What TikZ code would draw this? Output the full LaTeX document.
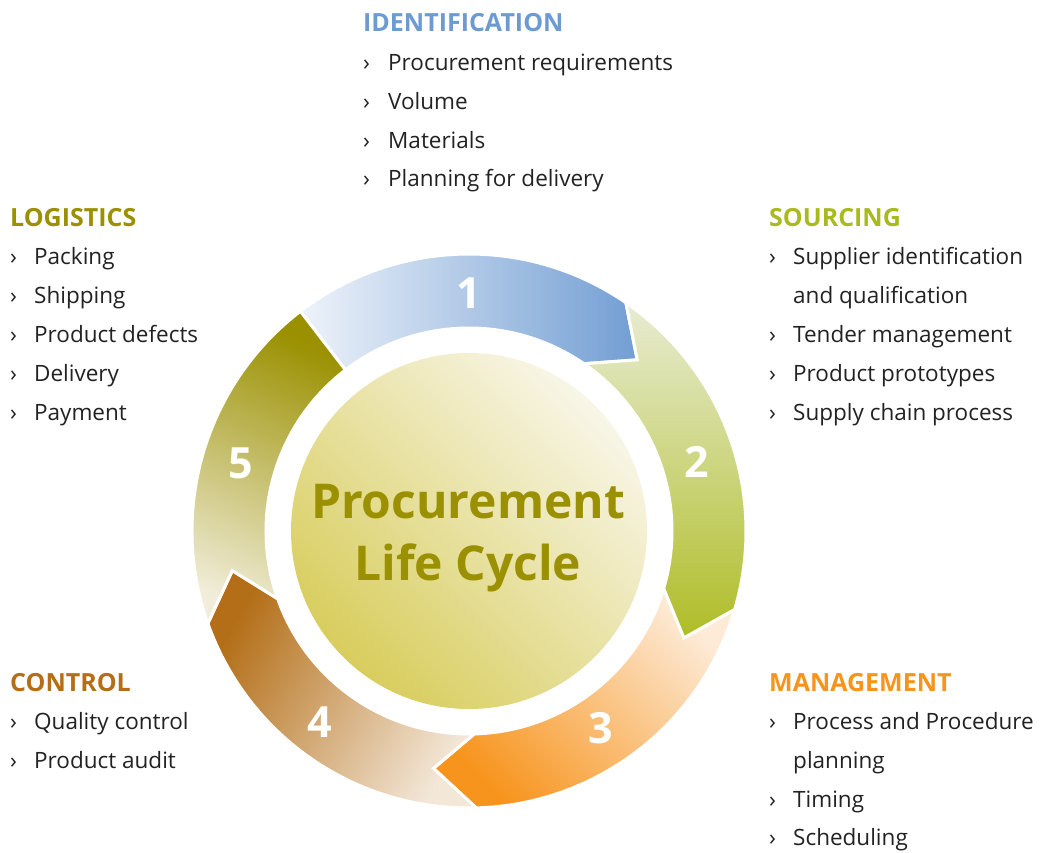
\documentclass[tikz,border=0pt]{standalone}
\usepackage{fontspec}
\setmainfont{Open Sans}
\definecolor{txtgray}{HTML}{222222}
\definecolor{idblue}{HTML}{6B9BD2}
\definecolor{srcgreen}{HTML}{A9BA1F}
\definecolor{mgmtorange}{HTML}{F7941D}
\definecolor{ctrlbrown}{HTML}{B36E17}
\definecolor{logolive}{HTML}{9A9000}
\definecolor{segonea}{HTML}{EEF3FA}
\definecolor{segoneb}{HTML}{729ED3}
\definecolor{segtwoa}{HTML}{E8ECD2}
\definecolor{segtwob}{HTML}{AFBD27}
\definecolor{segthreea}{HTML}{FDEBD8}
\definecolor{segfoura}{HTML}{F3E7D8}
\definecolor{segfivea}{HTML}{F1EDD9}
\definecolor{disca}{HTML}{F8F6E8}
\definecolor{discb}{HTML}{D8CD5C}
\begin{document}
\begin{tikzpicture}[x=1pt, y=1pt,
  seg/.style={draw=white, line width=3pt, line join=miter},
  heading/.style={anchor=base west, inner sep=0pt, font=\fontsize{25}{25}\selectfont\bfseries},
  item/.style={anchor=base west, inner sep=0pt, text=txtgray, font=\fontsize{22.5}{22.5}\selectfont},
  num/.style={text=white, inner sep=0pt, font=\fontsize{43}{43}\selectfont\bfseries}]
\useasboundingbox (-469,-321) rectangle (579,531);
\shade[bottom color=discb, top color=disca, shading angle=-45] (0,0) circle[radius=178];
\shadedraw[seg, left color=segonea, right color=segoneb] (127.5:277) arc[start angle=127.5, end angle=55.5, radius=277] -- (45.5:240) -- (55.5:203) arc[start angle=55.5, end angle=127.5, radius=203] -- cycle;
\shadedraw[seg, top color=segtwoa, bottom color=segtwob] (55.5:277) arc[start angle=55.5, end angle=-16.5, radius=277] -- (-26.5:240) -- (-16.5:203) arc[start angle=-16.5, end angle=55.5, radius=203] -- (45.5:240) -- cycle;
\shadedraw[seg, left color=mgmtorange, right color=segthreea, shading angle=135] (-16.5:277) arc[start angle=-16.5, end angle=-88.5, radius=277] -- (-98.5:240) -- (-88.5:203) arc[start angle=-88.5, end angle=-16.5, radius=203] -- (-26.5:240) -- cycle;
\shadedraw[seg, left color=ctrlbrown, right color=segfoura, shading angle=60] (-88.5:277) arc[start angle=-88.5, end angle=-160.5, radius=277] -- (-170.5:240) -- (-160.5:203) arc[start angle=-160.5, end angle=-88.5, radius=203] -- (-98.5:240) -- cycle;
\shadedraw[seg, top color=logolive, bottom color=segfivea, shading angle=-25] (199.5:277) arc[start angle=199.5, end angle=127.5, radius=277] -- (127.5:203) arc[start angle=127.5, end angle=199.5, radius=203] -- (189.5:240) -- cycle;
\node[num] (n1) at (0,238) {1};
\node[num] (n2) at (228,69) {2};
\node[num] (n3) at (132,-197) {3};
\node[num] (n4) at (-149,-191) {4};
\node[num] (n5) at (-228,68) {5};
\node[text=logolive, font=\fontsize{48}{48}\selectfont\bfseries, anchor=base] (title1) at (-1,13) {Procurement};
\node[text=logolive, font=\fontsize{48}{48}\selectfont\bfseries, anchor=base] (title2) at (-1,-49) {Life Cycle};
\node[heading, text=idblue] (idhead) at (-106,499) {IDENTIFICATION};
\node[item] (id1) at (-106,460) {\makebox[25pt][l]{›}Procurement requirements};
\node[item] (id2) at (-106,421) {\makebox[25pt][l]{›}Volume};
\node[item] (id3) at (-106,382) {\makebox[25pt][l]{›}Materials};
\node[item] (id4) at (-106,344) {\makebox[25pt][l]{›}Planning for delivery};
\node[heading, text=srcgreen] (srchead) at (300,305) {SOURCING};
\node[item] (src1) at (300,267) {\makebox[24pt][l]{›}Supplier identification};
\node[item] (src2) at (324,228) {and qualification};
\node[item] (src3) at (300,189) {\makebox[24pt][l]{›}Tender management};
\node[item] (src4) at (300,150) {\makebox[24pt][l]{›}Product prototypes};
\node[item] (src5) at (300,111) {\makebox[24pt][l]{›}Supply chain process};
\node[heading, text=logolive] (loghead) at (-459,305) {LOGISTICS};
\node[item] (log1) at (-459,267) {\makebox[24pt][l]{›}Packing};
\node[item] (log2) at (-459,228) {\makebox[24pt][l]{›}Shipping};
\node[item] (log3) at (-459,189) {\makebox[24pt][l]{›}Product defects};
\node[item] (log4) at (-459,150) {\makebox[24pt][l]{›}Delivery};
\node[item] (log5) at (-459,111) {\makebox[24pt][l]{›}Payment};
\node[heading, text=ctrlbrown] (ctrlhead) at (-459,-160) {CONTROL};
\node[item] (ctrl1) at (-459,-198) {\makebox[24pt][l]{›}Quality control};
\node[item] (ctrl2) at (-459,-237) {\makebox[24pt][l]{›}Product audit};
\node[heading, text=mgmtorange] (mgmthead) at (300,-160) {MANAGEMENT};
\node[item] (mgmt1) at (300,-198) {\makebox[24pt][l]{›}Process and Procedure};
\node[item] (mgmt2) at (324,-237) {planning};
\node[item] (mgmt3) at (300,-276) {\makebox[24pt][l]{›}Timing};
\node[item] (mgmt4) at (300,-314) {\makebox[24pt][l]{›}Scheduling};
\end{tikzpicture}
\end{document}
